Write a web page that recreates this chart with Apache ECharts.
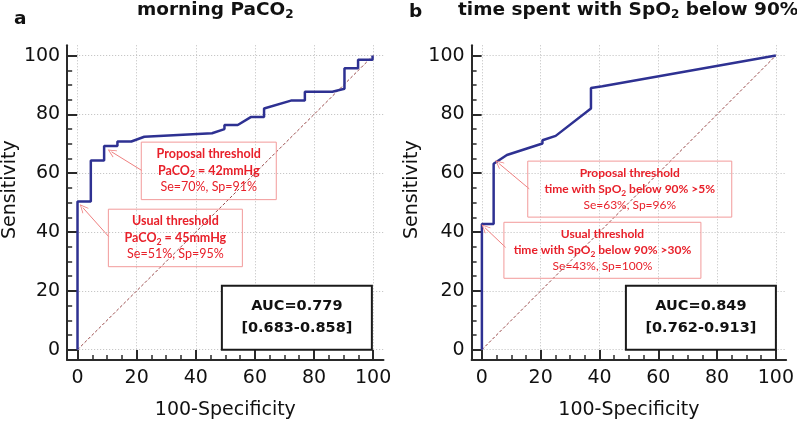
<!DOCTYPE html>
<html>
<head>
<meta charset="utf-8">
<script src="https://cdn.jsdelivr.net/npm/echarts@6/dist/echarts.min.js"></script>
<style>html,body{margin:0;padding:0;background:#fff}#c{width:797px;height:425px}</style>
</head>
<body>
<div id="c"></div>
<script>
// ---------- data ----------
const majorTicks = [0, 20, 40, 60, 80, 100];
const minorTicks = [0, 5, 10, 15, 20, 25, 30, 35, 40, 45, 50, 55, 60, 65, 70, 75, 80, 85, 90, 95, 100];
const xAxisName = '100-Specificity';
const yAxisName = 'Sensitivity';

// panel a : morning PaCO2 (100-Specificity, Sensitivity)
const rocAX = [0, 0, 4.5, 4.5, 9.0, 9.0, 13.5, 13.5, 18.2, 22.6, 45.5, 49.7, 49.7, 54.2, 58.6, 63.1, 63.1, 72.2, 76.9, 76.9, 86.2, 90.3, 90.3, 94.9, 94.9, 99.8, 99.8, 100];
const rocAY = [0, 50.4, 50.4, 64.3, 64.3, 69.3, 69.3, 70.8, 70.8, 72.4, 73.6, 75.0, 76.4, 76.4, 79.1, 79.1, 82.0, 84.7, 84.7, 87.7, 87.7, 88.7, 95.7, 95.7, 98.6, 98.6, 100, 100];
// panel b : time spent with SpO2 below 90%
const rocBX = [0, 0, 4.0, 4.0, 8.5, 20.6, 20.6, 25.1, 37.1, 37.1, 41.0, 100];
const rocBY = [0, 42.7, 42.7, 63.2, 66.2, 70.1, 71.2, 72.7, 82.0, 89.0, 89.6, 100];
// chance diagonal
const diagX = [0, 100];
const diagY = [0, 100];

const panelLetters = ['a', 'b'];
const aucA = ['AUC=0.779', '[0.683-0.858]'];
const aucB = ['AUC=0.849', '[0.762-0.913]'];
const annA = [
  ['Proposal threshold', 'PaCO', '2', ' = 42mmHg', 'Se=70%, Sp=91%'],
  ['Usual threshold', 'PaCO', '2', ' = 45mmHg', 'Se=51%, Sp=95%']
];
const annB = [
  ['Proposal threshold', 'time with SpO', '2', ' below 90% >5%', 'Se=63%, Sp=96%'],
  ['Usual threshold', 'time with SpO', '2', ' below 90% >30%', 'Se=43%, Sp=100%']
];

// ---------- layout / styles ----------
const FONT = 'DejaVu Sans';
const AFONT = 'Lato';
const RED = '#e8202a';
const RED_LINE = '#f29a9a';
const BLUE = '#2e3192';
const AXIS = '#2a2a2a';

const zip = (xs, ys) => xs.map((x, i) => [x, ys[i]]);

function axesFor(grid, isX, nameGap, namePad) {
  const common = {
    gridIndex: grid, type: 'value', min: -3.5, max: 103.5,
    position: isX ? 'bottom' : 'left'
  };
  const major = Object.assign({}, common, {
    name: isX ? xAxisName : yAxisName,
    nameLocation: 'middle',
    nameGap: nameGap,
    nameTextStyle: Object.assign({ fontFamily: FONT, fontSize: 19, color: '#111' }, namePad ? { padding: namePad } : {}),
    axisLine: { show: true, onZero: false, lineStyle: { color: AXIS, width: 2 } },
    axisTick: { show: true, inside: true, length: 10, customValues: majorTicks, lineStyle: { color: AXIS, width: 2 } },
    axisLabel: { show: true, customValues: majorTicks, fontFamily: FONT, fontSize: 19, color: '#111', margin: isX ? 9 : 7 },
    splitLine: { show: true, lineStyle: { color: '#bdbdbd', type: [1, 2], width: 1 } }
  });
  const minor = Object.assign({}, common, {
    axisLine: { show: false, onZero: false },
    axisTick: { show: true, inside: true, length: 5, customValues: minorTicks, lineStyle: { color: AXIS, width: 1.5 } },
    axisLabel: { show: false },
    splitLine: { show: false }
  });
  return [major, minor];
}

function annRich(fs, lh) {
  return {
    h: { fontFamily: AFONT, fontWeight: 'bold', fontSize: fs, lineHeight: lh, color: RED, align: 'center' },
    hs: { fontFamily: AFONT, fontWeight: 'bold', fontSize: fs * 0.7, lineHeight: 10, color: RED, align: 'center', verticalAlign: 'bottom' },
    n: { fontFamily: AFONT, fontSize: fs, lineHeight: lh, color: RED, align: 'center' }
  };
}
function annItem(t, coord, w, fs, lh) {
  return {
    coord: coord,
    label: {
      show: true, position: 'inside', align: 'center', verticalAlign: 'middle',
      formatter: '{h|' + t[0] + '}\n{h|' + t[1] + '}{hs|' + t[2] + '}{h|' + t[3] + '}\n{n|' + t[4] + '}',
      width: w, padding: [4, 0], borderColor: RED_LINE, borderWidth: 1,
      rich: annRich(fs, lh)
    }
  };
}
function aucItem(t, coord) {
  return {
    coord: coord,
    label: {
      show: true, position: 'inside', align: 'center', verticalAlign: 'middle',
      formatter: '{t|' + t[0] + '}\n{t|' + t[1] + '}',
      width: 148, padding: [9, 0], backgroundColor: '#fff', borderColor: '#1a1a1a', borderWidth: 2,
      rich: { t: { fontFamily: FONT, fontWeight: 'bold', fontSize: 14.5, lineHeight: 22, color: '#111', align: 'center' } }
    }
  };
}
const arrowSym = 'path://M0,0 L5,9 L4.2,9.6 L0,2 L-4.2,9.6 L-5,9 Z';
function arrowLine(from, to) { return [{ coord: from }, { coord: to }]; }

const xA = axesFor(0, true, 41);
const xB = axesFor(1, true, 41);
const yA = axesFor(0, false, 44, [0, 0, 0, 26]);
const yB = axesFor(1, false, 50, [0, 0, 0, 26]);

const titleRich = {
  m: { fontFamily: FONT, fontWeight: 'bold', fontSize: 18.5, lineHeight: 22, color: '#111' },
  s: { fontFamily: FONT, fontWeight: 'bold', fontSize: 12, lineHeight: 12, color: '#111', verticalAlign: 'bottom' }
};

const option = {
  animation: false,
  backgroundColor: '#fff',
  title: [
    { text: panelLetters[0], left: 14, top: 8, padding: 0, textStyle: { fontFamily: FONT, fontWeight: 'bold', fontSize: 18.5, lineHeight: 22, color: '#111' } },
    { text: '{m|morning PaCO}{s|2}', left: 137, top: -1, padding: 0, textStyle: { rich: titleRich } },
    { text: panelLetters[1], left: 409, top: 1, padding: 0, textStyle: { fontFamily: FONT, fontWeight: 'bold', fontSize: 18.5, lineHeight: 22, color: '#111' } },
    { text: '{m|time spent with SpO}{s|2}{m| below 90%}', left: 458, top: -1, padding: 0, textStyle: { rich: titleRich } }
  ],
  grid: [
    { left: 63.5, top: 45.3, width: 320, height: 317.4 },
    { left: 471.6, top: 45.3, width: 318.8, height: 317.4 }
  ],
  xAxis: [xA[0], xA[1], xB[0], xB[1]],
  yAxis: [yA[0], yA[1], yB[0], yB[1]],
  series: [
    {
      type: 'line', xAxisIndex: 0, yAxisIndex: 0, data: zip(diagX, diagY), showSymbol: false, silent: true,
      lineStyle: { color: '#9a4a4a', width: 1, type: [3, 2] }, z: 2
    },
    {
      type: 'line', xAxisIndex: 0, yAxisIndex: 0, data: zip(rocAX, rocAY), showSymbol: false, silent: true,
      lineStyle: { color: BLUE, width: 2.5 }, z: 3,
      markPoint: {
        symbol: 'circle', symbolSize: 1, itemStyle: { color: 'rgba(0,0,0,0)' }, silent: true,
        data: [
          annItem(annA[0], [44.4, 60.8], 135, 12.5, 16.5),
          annItem(annA[1], [33.1, 38.0], 134, 12.5, 16.5),
          aucItem(aucA, [74.2, 10.9])
        ]
      },
      markLine: {
        silent: true, symbol: ['none', arrowSym], symbolSize: [8, 9],
        lineStyle: { color: '#ef8080', width: 1, type: 'solid' }, label: { show: false },
        data: [arrowLine([21.8, 60.9], [11.5, 67.3]), arrowLine([10.6, 38.4], [1.8, 48.3])]
      }
    },
    {
      type: 'line', xAxisIndex: 2, yAxisIndex: 2, data: zip(diagX, diagY), showSymbol: false, silent: true,
      lineStyle: { color: '#9a4a4a', width: 1, type: [3, 2] }, z: 2
    },
    {
      type: 'line', xAxisIndex: 2, yAxisIndex: 2, data: zip(rocBX, rocBY), showSymbol: false, silent: true,
      lineStyle: { color: BLUE, width: 2.5 }, z: 3,
      markPoint: {
        symbol: 'circle', symbolSize: 1, itemStyle: { color: 'rgba(0,0,0,0)' }, silent: true,
        data: [
          annItem(annB[0], [50.3, 54.6], 204, 12, 16),
          annItem(annB[1], [41.0, 33.8], 197, 12, 16),
          aucItem(aucB, [74.5, 10.9])
        ]
      },
      markLine: {
        silent: true, symbol: ['none', arrowSym], symbolSize: [8, 9],
        lineStyle: { color: '#ef8080', width: 1, type: 'solid' }, label: { show: false },
        data: [arrowLine([16.1, 54.7], [5.7, 63.4]), arrowLine([8.05, 34.8], [1.0, 41.5])]
      }
    }
  ]
};

const chart = echarts.init(document.getElementById('c'), null, { renderer: 'canvas' });
chart.setOption(option);
</script>
</body>
</html>
